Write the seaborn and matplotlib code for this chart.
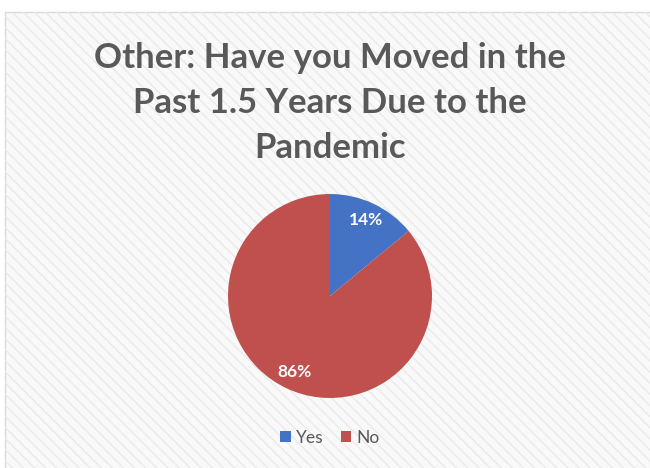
import matplotlib
matplotlib.use("Agg")
import matplotlib.pyplot as plt
from matplotlib.patches import Rectangle
import seaborn as sns

categories = ["Yes", "No"]
values = [14, 86]
colors = ["#4472C4", "#C0504D"]
title = "Other: Have you Moved in the\nPast 1.5 Years Due to the\nPandemic"

sns.set_theme(style="white")
plt.rcParams['font.family'] = ['Lato', 'DejaVu Sans']

fig = plt.figure(figsize=(6.5, 4.68), dpi=100)
fig.patch.set_facecolor("white")

# chart area background with diagonal stripes
plt.rcParams['hatch.color'] = "#EAEAEA"
plt.rcParams['hatch.linewidth'] = 1.0
bg = Rectangle((5/650, -0.01), 1.0, 1 - 12/468 + 0.01, transform=fig.transFigure,
               facecolor="#F9F9F9", edgecolor="#D9D9D9", lw=1.0, zorder=0)
fig.patches.append(bg)
hatch = Rectangle((5/650, -0.01), 1.0, 1 - 12/468 + 0.01, transform=fig.transFigure,
                  facecolor="none", edgecolor="#EAEAEA", hatch="\\\\\\", lw=0, zorder=0)
fig.patches.append(hatch)

ax = fig.add_axes([(330-102)/650, (468-296-102)/468, 204/650, 204/468])
ax.set_zorder(5)
ax.set_facecolor("none")
wedges, texts, autotexts = ax.pie(values, colors=colors, startangle=90, counterclock=False,
                                  autopct="%d%%", pctdistance=0.82,
                                  wedgeprops=dict(linewidth=0),
                                  textprops=dict(color="white", fontsize=12.5, fontweight="bold"))
ax.set_xlim(-1, 1)
ax.set_ylim(-1, 1)
ax.set_aspect("equal")
ax.axis("off")

fig.text(330/650, 1 - 42/468, title, ha="center", va="top", fontsize=25,
         fontweight="bold", color="#595959", linespacing=1.5, zorder=5)

leg = fig.legend(wedges, categories, loc="center", bbox_to_anchor=(330/650, 1 - 438/468),
                 ncol=2, frameon=False, fontsize=12.5, handlelength=0.6, handleheight=0.6,
                 handletextpad=0.3, columnspacing=1.0)
leg.set_zorder(5)
for t in leg.get_texts():
    t.set_color("#595959")

fig.savefig("out.png", dpi=100)
